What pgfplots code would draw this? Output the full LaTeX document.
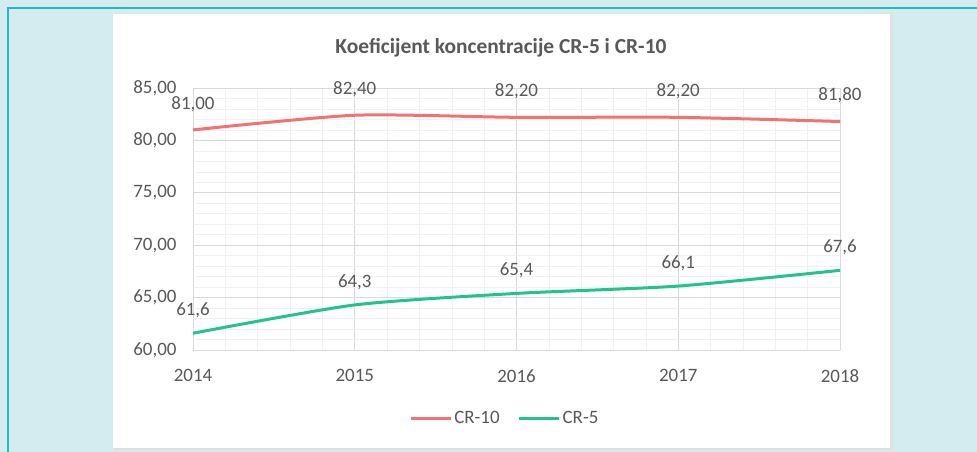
\documentclass[border=0pt]{standalone}
\usepackage{fontspec}
\setmainfont{Carlito}
\usepackage{pgfplots}
\pgfplotsset{compat=1.18}

\definecolor{bgcyan}{HTML}{D4ECF0}
\definecolor{framecyan}{HTML}{22B8C8}
\definecolor{crten}{HTML}{F07272}
\definecolor{crfive}{HTML}{22C48C}
\definecolor{txtgrey}{HTML}{595959}

\pgfplotstableread{
x y lab
2014 81.0 81,00
2015 82.4 82,40
2016 82.2 82,20
2017 82.2 82,20
2018 81.8 81,80
}\crten

\pgfplotstableread{
x y lab
2014 61.6 61,6
2015 64.3 64,3
2016 65.4 65,4
2017 66.1 66,1
2018 67.6 67,6
}\crfive

\begin{document}
\begin{tikzpicture}[x=1bp,y=1bp]
\useasboundingbox (0,0) rectangle (977,452);
% page background and panel
\fill[bgcyan] (0,0) rectangle (977,452);
\draw[framecyan, line width=1.5bp] (8,-5) -- (8,444) -- (990,444);
\fill[black!12] (114,2) rectangle (893,439);
\fill[white] (113,4) rectangle (890,438);
\node[font=\bfseries\fontsize{21.5}{25}\selectfont, text=txtgrey] at (501,404)
  {Koeficijent koncentracije CR-5 i CR-10};

\begin{axis}[
  at={(193bp,102bp)}, anchor=south west,
  scale only axis, width=647bp, height=262bp,
  xmin=2014, xmax=2018, ymin=60, ymax=85,
  xtick={2014,2015,2016,2017,2018},
  xticklabels={2014,2015,2016,2017,2018},
  ytick={60,65,70,75,80,85},
  yticklabels={{60,00},{65,00},{70,00},{75,00},{80,00},{85,00}},
  minor x tick num=4, minor y tick num=4,
  grid=both,
  major grid style={draw=black!15, line width=0.8bp},
  minor grid style={draw=black!6, line width=0.6bp},
  axis line style={draw=none},
  tick style={draw=none},
  ticklabel style={font=\fontsize{19}{22}\selectfont, text=txtgrey},
  yticklabel style={xshift=-13bp},
  xticklabel style={yshift=-16bp},
  nodes near coords,
  point meta=explicit symbolic,
  every node near coord/.append style={font=\fontsize{19}{22}\selectfont,
    text=txtgrey, anchor=center},
  legend style={at={(0.482,-0.26)}, anchor=center, draw=none, fill=none,
    font=\fontsize{19}{22}\selectfont, text=txtgrey},
  legend columns=2,
  legend cell align=left,
  /tikz/every even column/.append style={column sep=16bp},
  legend image code/.code={\draw[#1] (0bp,0bp) -- (40bp,0bp);},
]
\addplot[crten, line width=3bp, smooth, tension=0.4,
  every node near coord/.append style={yshift=26bp}]
  table[x=x, y=y, meta=lab] {\crten};
\addlegendentry{CR-10}
\addplot[crfive, line width=3bp, smooth, tension=0.4,
  every node near coord/.append style={yshift=23bp}]
  table[x=x, y=y, meta=lab] {\crfive};
\addlegendentry{CR-5}
\end{axis}
\end{tikzpicture}
\end{document}
